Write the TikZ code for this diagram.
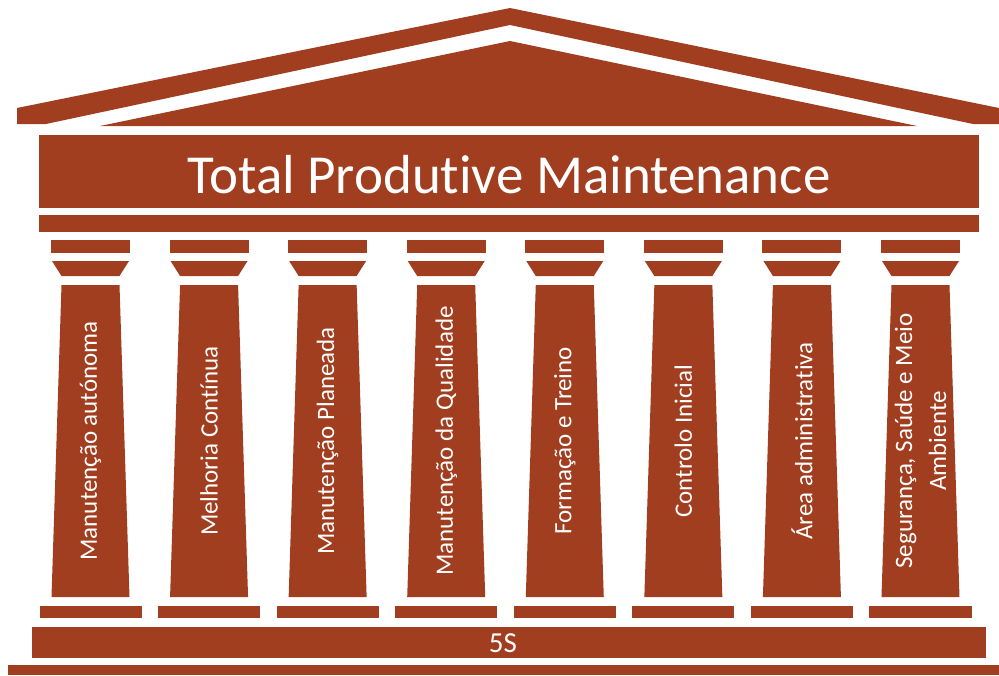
\documentclass[tikz,border=0pt]{standalone}
\usepackage{fontspec}
\setmainfont{Carlito}[Ligatures=NoCommon]
\definecolor{brick}{RGB}{162,62,32}
\tikzset{
  part/.style={fill=brick, draw=none},
  lbl/.style={text=white, inner sep=0pt, align=center},
}
\begin{document}
\begin{tikzpicture}[x=1pt,y=-1pt]
\useasboundingbox (0,0) rectangle (999,675);
% roof
\fill[part] (17,108) -- (510,8) -- (999,108) -- (999,124) -- (973,124) -- (510,25) -- (46,124) -- (17,124) -- cycle;
\fill[part] (100,126) -- (510,41) -- (917,126) -- cycle;
% entablature
\node[part, minimum width=940pt, minimum height=73pt, inner sep=0pt] (title) at (509,171.5) {};
\node[lbl, font=\fontsize{55}{66}\selectfont] (titletext) at (509,175) {Total Produtive Maintenance};
\fill[part] (39,215) rectangle (979,232);
% columns
\foreach \i/\t in {0/{Manutenção autónoma},1/{Melhoria Contínua},2/{Manutenção Planeada},3/{Manutenção da Qualidade},4/{Formação e Treino},5/{Controlo Inicial},6/{Área administrativa},7/{Segurança, Saúde e Meio\\Ambiente}}{
  \pgfmathsetmacro{\c}{90.5+\i*118.57}
  \fill[part] (\c-39.5,240) rectangle (\c+39.5,253);
  \fill[part] (\c-38.5,261) -- (\c+38.5,261) -- (\c+29,276) -- (\c-29,276) -- cycle;
  \fill[part] (\c-29,285) -- (\c+29,285) -- (\c+39,597) -- (\c-39,597) -- cycle;
  \fill[part] (\c-51,606) rectangle (\c+51,618);
  \node[lbl, rotate=90, font=\fontsize{25}{34}\selectfont] (col\i) at (\c,441) {\t};
}
% base
\node[part, minimum width=954pt, minimum height=31pt, inner sep=0pt] (fives) at (509,642.5) {};
\node[lbl, font=\fontsize{29}{34}\selectfont] (fivestext) at (503,643) {5S};
\fill[part] (8,665) rectangle (999,675);
\end{tikzpicture}
\end{document}
